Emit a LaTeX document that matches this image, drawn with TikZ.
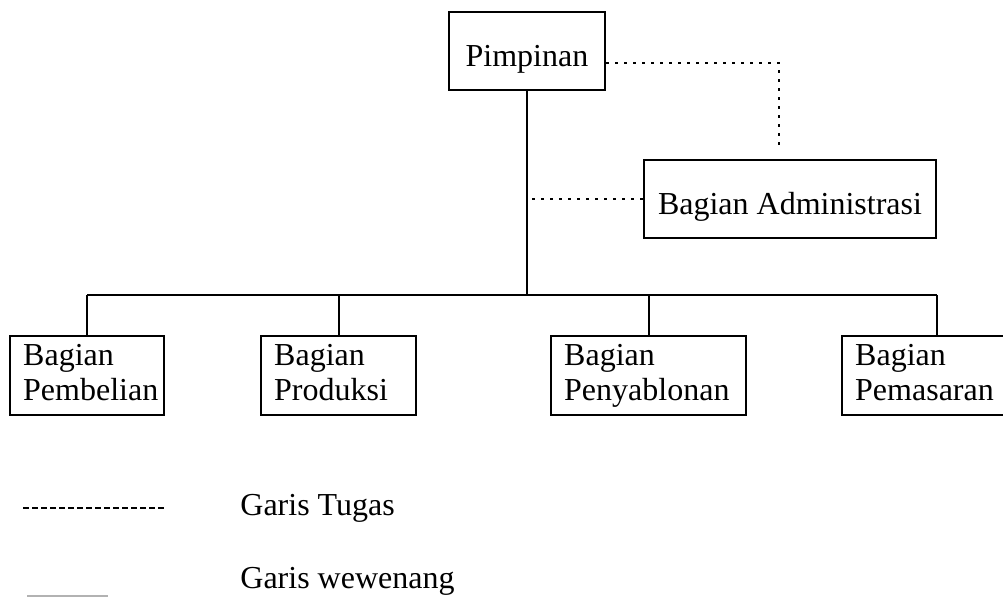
\documentclass[tikz,border=0pt]{standalone}
\usepackage{fontspec}
\setmainfont{Liberation Serif}
\begin{document}
\begin{tikzpicture}[x=0.5pt, y=-0.5pt,
  every node/.style={font=\fontsize{16}{17.5}\selectfont},
  topbox/.style={draw, line width=1.2pt, inner xsep=0pt, inner ysep=1pt, text height=26pt, text depth=11pt},
  unitbox/.style={draw, line width=1.2pt, anchor=north west, align=left, inner xsep=6.5pt, inner ysep=0pt, minimum height=39.5pt,
    execute at begin node=\strut, execute at end node=\strut},
  wewenang/.style={line width=1pt},
  tugas/.style={line width=1.3pt, dash pattern=on 1.2pt off 3.3pt}]
\useasboundingbox (0,0) rectangle (1003,596);
\node[topbox, minimum width=78pt] (pim) at (527,51) {Pimpinan};
\node[topbox, minimum width=146pt] (adm) at (790,199) {Bagian Administrasi};
\node[unitbox, text width=64pt] (beli) at (9,335) {Bagian\\Pembelian};
\node[unitbox, text width=64.5pt] (prod) at (260,335) {Bagian\\Produksi};
\node[unitbox, text width=84.5pt] (sablon) at (550,335) {Bagian\\Penyablonan};
\node[unitbox, text width=71pt] (pasar) at (841,335) {Bagian\\Pemasaran};
\coordinate (busR) at (937,295);
\coordinate (admtop) at (779,148);
\draw[wewenang] (pim.south) -- (pim.south |- busR);
\draw[wewenang] (beli.north |- busR) -- (busR);
\draw[wewenang] (beli.north) -- (beli.north |- busR);
\draw[wewenang] (prod.north) -- (prod.north |- busR);
\draw[wewenang] (sablon.north) -- (sablon.north |- busR);
\draw[wewenang] (busR) -- (busR |- pasar.north);
\draw[tugas] ([yshift=-6pt]pim.east) -| (admtop);
\draw[tugas] (adm.west) -- ([xshift=2pt]adm.west -| pim.south);
\coordinate (legTugasA) at (23,508);
\coordinate (legTugasB) at (165,508);
\coordinate (legWewA) at (27,596);
\coordinate (legWewB) at (108,596);
\draw[line width=1.1pt, dash pattern=on 3pt off 1.5pt] (legTugasA) -- (legTugasB);
\draw[line width=1.2pt, gray!60] (legWewA) -- (legWewB);
\node[anchor=base west, inner sep=0pt] (ketTugas) at (240,515) {Garis Tugas};
\node[anchor=base west, inner sep=0pt] (ketWewenang) at (240,588) {Garis wewenang};
\end{tikzpicture}
\end{document}
